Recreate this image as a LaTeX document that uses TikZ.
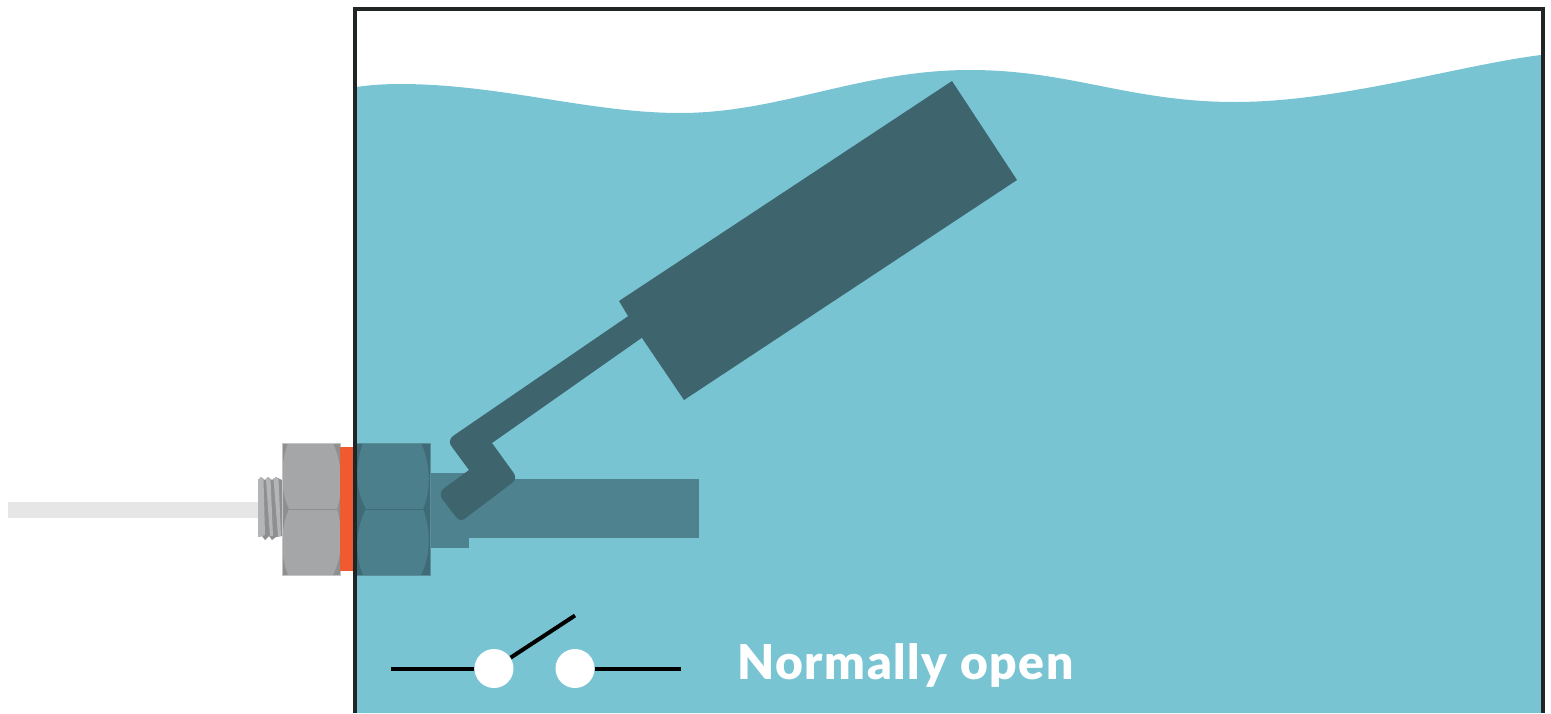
\documentclass[tikz,border=0pt]{standalone}
\usepackage{fontspec}
\setmainfont{Lato}[BoldFont=* Black,LetterSpace=3.2]
\definecolor{water}{HTML}{78C4D3}
\definecolor{darkfloat}{HTML}{3E646D}
\definecolor{tubec}{HTML}{4E828F}
\definecolor{nutin}{HTML}{4C7F8C}
\definecolor{nutindark}{HTML}{3F6B76}
\definecolor{nutedgein}{HTML}{5A8E9B}
\definecolor{nutout}{HTML}{A5A6A8}
\definecolor{nutoutdark}{HTML}{8E8F90}
\definecolor{nutedge}{HTML}{C4C4C6}
\definecolor{threadd}{HTML}{8E8F90}
\definecolor{threadl}{HTML}{B4B5B6}
\definecolor{cable}{HTML}{E6E6E7}
\definecolor{washer}{HTML}{F15A31}
\definecolor{frame}{HTML}{222526}
\tikzset{
  wire/.style={draw=black,line width=2pt},
  terminal/.style={circle,fill=white,draw=none,minimum size=19.5pt,inner sep=0pt},
  label/.style={text=white,font=\fontsize{24pt}{28pt}\bfseries,inner sep=0pt,anchor=base west}
}
\begin{document}
\begin{tikzpicture}[x=0.5pt,y=-0.5pt]
\useasboundingbox (0,0) rectangle (1551,713);
% water
\fill[water] (356,87) .. controls (370,85) and (385,84) .. (400,84)
  .. controls (500,84) and (590,113) .. (680,113)
  .. controls (780,113) and (860,70) .. (970,70)
  .. controls (1070,70) and (1130,102) .. (1235,102)
  .. controls (1340,102) and (1460,65) .. (1541,55)
  -- (1541,713) -- (356,713) -- cycle;
% cable
\fill[cable] (8,502) rectangle (259,518);
% thread
\fill[threadd] (258,480) -- (261,477) -- (265,480) -- (268,477) -- (272,480) -- (276,477) -- (282,480) -- (289,509) -- (282,536) -- (276,537) -- (272,540) -- (269,536) -- (265,540) -- (262,536) -- (258,537) -- cycle;
\fill[threadl] (258,480) -- (261,477) -- (263.5,479) -- (265,535) -- (262,536) -- (258,537) -- cycle;
\fill[threadl] (266,480) -- (268,477) -- (270.5,479) -- (273,536) -- (270,536) -- cycle;
\fill[threadl] (273.5,479) -- (276,477) -- (278.5,479) -- (281,536) -- (278,536) -- cycle;
% outer nut
\fill[nutoutdark] (282,443) rectangle (340,575);
\fill[nutout] (288,443) .. controls (280,465) and (280,490) .. (289,509)
  .. controls (280,530) and (280,555) .. (288,575)
  -- (333,575) .. controls (343,555) and (343,530) .. (337,509)
  .. controls (343,490) and (343,465) .. (333,443) -- cycle;
\draw[nutoutdark,line width=0.5pt] (289,509) -- (337,509);
\draw[nutedge,line width=0.5pt] (282,443) rectangle (340,575);
% washer
\fill[washer] (340,447) rectangle (354,571);
% block and tube
\fill[tubec] (469,479) rectangle (699,538);
\fill[tubec] (430,473) rectangle (469,548);
% inner nut
\fill[nutindark] (356,443) rectangle (430,575);
\fill[nutin] (363,443) .. controls (355,465) and (355,490) .. (366,509)
  .. controls (355,530) and (355,555) .. (363,575)
  -- (421,575) .. controls (431,555) and (431,530) .. (423,509)
  .. controls (431,490) and (431,465) .. (421,443) -- cycle;
\draw[nutindark,line width=0.5pt] (366,509) -- (423,509);
\draw[nutedgein,line width=0.5pt] (356,443) rectangle (430,575);
% float and arm
\fill[darkfloat] (640,308) -- (453,436) .. controls (449,439) and (449,444) .. (452,447) -- (469,470) -- (443,489) .. controls (440,492) and (440,497) .. (443,500) -- (456,517) .. controls (459,521) and (463,521) .. (467,517) -- (512,483) .. controls (516,480) and (516,476) .. (513,472) -- (492,443) -- (660,325) -- cycle;
\fill[darkfloat] (619,301) -- (952,81) -- (1017,180) -- (684,400) -- (642,338) -- (628,316) -- cycle;
% frame
\draw[frame,line width=2pt] (355,713) -- (355,9) -- (1542.5,9) -- (1542.5,713);
% switch
\node[terminal] (t1) at (494,668.5) {};
\node[terminal] (t2) at (575,668.5) {};
\coordinate (wl) at (391,668.5);
\coordinate (wr) at (681,668.5);
\coordinate (blade) at (575,615.5);
\draw[wire] (wl) -- (t1);
\draw[wire] (t2) -- (wr);
\draw[wire] (t1) -- (blade);
\node[label] (lab) at (737,679.5) {Normally open};
\end{tikzpicture}
\end{document}
